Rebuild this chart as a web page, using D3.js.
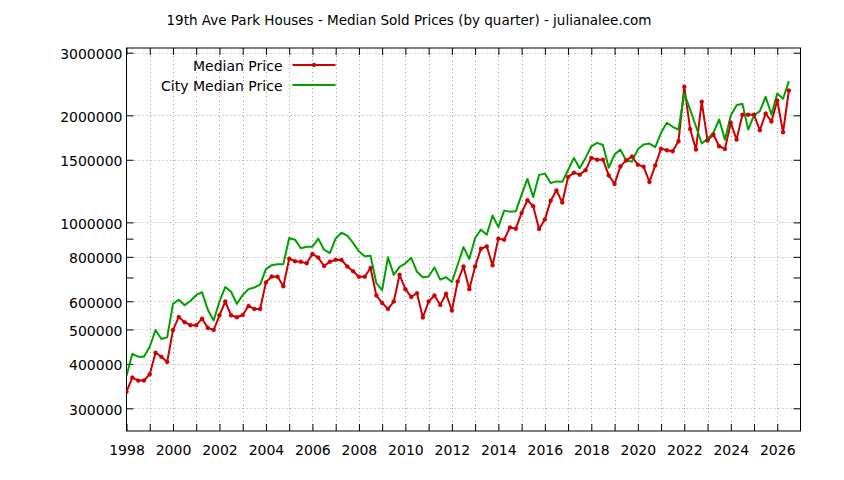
<!DOCTYPE html>
<html>
<head>
<meta charset="utf-8">
<script src="https://cdn.jsdelivr.net/npm/d3@7"></script>
<style>
  html, body { margin: 0; padding: 0; background: #fff; }
  svg { display: block; font-family: "DejaVu Sans", Verdana, sans-serif; }
</style>
</head>
<body>
<svg id="chart" width="844" height="480"></svg>
<script>
// ---- data ----
const chartTitle = "19th Ave Park Houses - Median Sold Prices (by quarter) - julianalee.com";
const seriesNames = ["Median Price", "City Median Price"];
const startYear = 1998;          // first quarter plotted at 1998.0, one point per quarter
const quartersPerYear = 4;

const medianPrice = [
  334000, 366000, 359000, 359000,     // 1998
  374000, 430000, 419000, 405000,     // 1999
  498000, 542000, 524000, 514000,     // 2000
  514000, 536000, 505000, 498000,     // 2001
  548000, 599000, 548000, 541000,     // 2002
  549000, 582000, 571000, 571000,     // 2003
  678000, 704000, 703000, 661000,     // 2004
  790000, 778000, 775000, 767000,     // 2005
  815000, 796000, 754000, 775000,     // 2006
  785000, 784000, 752000, 729000,     // 2007
  703000, 703000, 744000, 623000,     // 2008
  593000, 571000, 599000, 712000,     // 2009
  649000, 617000, 632000, 540000,     // 2010
  599000, 623000, 586000, 630000,     // 2011
  565000, 682000, 752000, 649000,     // 2012
  752000, 843000, 856000, 757000,     // 2013
  900000, 894000, 968000, 960000,     // 2014
  1063000, 1154000, 1110000, 958000,  // 2015
  1018000, 1151000, 1230000, 1137000, // 2016
  1342000, 1380000, 1362000, 1401000, // 2017
  1518000, 1501000, 1501000, 1355000, // 2018
  1283000, 1437000, 1494000, 1531000, // 2019
  1453000, 1434000, 1299000, 1446000, // 2020
  1612000, 1595000, 1584000, 1690000, // 2021
  2407000, 1832000, 1602000, 2183000, // 2022
  1698000, 1766000, 1637000, 1609000, // 2023
  1906000, 1709000, 2007000, 2007000, // 2024
  2007000, 1816000, 2024000, 1922000, // 2025
  2202000, 1793000, 2349000           // 2026
];

const cityMedianPrice = [
  370000, 427000, 419000, 419000,     // 1998
  447000, 498000, 470000, 475000,     // 1999
  590000, 606000, 585000, 601000,     // 2000
  625000, 636000, 568000, 530000,     // 2001
  599000, 658000, 638000, 590000,     // 2002
  625000, 649000, 656000, 668000,     // 2003
  739000, 758000, 763000, 763000,     // 2004
  904000, 894000, 846000, 854000,     // 2005
  854000, 900000, 838000, 820000,     // 2006
  901000, 935000, 918000, 876000,     // 2007
  829000, 803000, 806000, 675000,     // 2008
  645000, 798000, 712000, 750000,     // 2009
  767000, 795000, 726000, 701000,     // 2010
  704000, 747000, 690000, 701000,     // 2011
  680000, 760000, 852000, 789000,     // 2012
  904000, 954000, 923000, 1046000,    // 2013
  970000, 1079000, 1072000, 1074000,  // 2014
  1197000, 1325000, 1178000, 1360000, // 2015
  1371000, 1291000, 1304000, 1300000, // 2016
  1404000, 1518000, 1420000, 1518000, // 2017
  1637000, 1673000, 1650000, 1425000, // 2018
  1551000, 1602000, 1493000, 1482000, // 2019
  1605000, 1655000, 1666000, 1627000, // 2020
  1786000, 1906000, 1857000, 1824000, // 2021
  2304000, 2078000, 1864000, 1666000, // 2022
  1717000, 1786000, 1947000, 1709000, // 2023
  1998000, 2136000, 2156000, 1824000, // 2024
  1998000, 2055000, 2255000, 2011000, // 2025
  2304000, 2226000, 2495000           // 2026
];

const yTickValues = [300000, 400000, 500000, 600000, 800000, 1000000, 1500000, 2000000, 3000000];
const yMinorTickValues = [700000, 900000];
const xLabelYears = [1998, 2000, 2002, 2004, 2006, 2008, 2010, 2012, 2014, 2016, 2018, 2020, 2022, 2024, 2026];
const xGridYears = d3.range(1998, 2027);
const xDomain = [1998, 2027];
const yDomain = [259000, 3093000];

// ---- drawing ----
const svg = d3.select("#chart");
const plot = { left: 126.5, right: 800.5, top: 48, bottom: 431 };

const x = d3.scaleLinear().domain(xDomain).range([plot.left, plot.right]);
const y = d3.scaleLog().domain(yDomain).range([plot.bottom, plot.top]);

const toPoints = arr => arr.map((v, i) => ({ t: startYear + i / quartersPerYear, v }));
const redData = toPoints(medianPrice);
const greenData = toPoints(cityMedianPrice);

const RED = "#cc0000";
const GREEN = "#00a000";
const GRID = "#a0a0a0";
const FONT = 14;

// title
svg.append("text")
  .attr("x", 409).attr("y", 25)
  .attr("text-anchor", "middle")
  .attr("font-size", 13.5)
  .attr("fill", "#000")
  .text(chartTitle);

// grid
const grid = svg.append("g").attr("stroke", GRID).attr("stroke-width", 1)
  .attr("stroke-dasharray", "1,3").attr("fill", "none");
grid.selectAll("line.v").data(xGridYears.filter(d => d > xDomain[0] && d < xDomain[1]))
  .join("line").attr("class", "v")
  .attr("x1", d => Math.round(x(d)) + 0.5).attr("x2", d => Math.round(x(d)) + 0.5)
  .attr("y1", plot.top).attr("y2", plot.bottom);
grid.selectAll("line.h").data(yTickValues)
  .join("line").attr("class", "h")
  .attr("y1", d => Math.round(y(d)) + 0.5).attr("y2", d => Math.round(y(d)) + 0.5)
  .attr("x1", plot.left).attr("x2", plot.right);

// axes (ticks inward, mirrored)
const TICK = 7;
const styleAxis = g => {
  g.select(".domain").remove();
  g.selectAll(".tick line").attr("stroke", "#000");
  g.selectAll(".tick text").attr("fill", "#000").attr("font-size", FONT)
    .attr("font-family", "DejaVu Sans, Verdana, sans-serif");
};

svg.append("g").attr("transform", `translate(0,${plot.bottom})`)
  .call(d3.axisBottom(x).tickValues(xGridYears).tickSize(-TICK).tickPadding(14)
    .tickFormat(d => xLabelYears.includes(d) ? String(d) : ""))
  .call(styleAxis);
svg.append("g").attr("transform", `translate(0,${plot.top})`)
  .call(d3.axisTop(x).tickValues(xGridYears).tickSize(-TICK).tickFormat(""))
  .call(styleAxis);

const yAll = yTickValues.concat(yMinorTickValues);
svg.append("g").attr("transform", `translate(${plot.left},0)`)
  .call(d3.axisLeft(y).tickValues(yAll).tickSize(-TICK).tickPadding(4)
    .tickFormat(d => yTickValues.includes(d) ? d3.format("d")(d) : ""))
  .call(styleAxis)
  .call(g => g.selectAll(".tick text").attr("dy", "0.42em"));
svg.append("g").attr("transform", `translate(${plot.right},0)`)
  .call(d3.axisRight(y).tickValues(yAll).tickSize(-TICK).tickFormat(""))
  .call(styleAxis);

// frame
svg.append("rect")
  .attr("x", plot.left).attr("y", plot.top)
  .attr("width", plot.right - plot.left).attr("height", plot.bottom - plot.top)
  .attr("fill", "none").attr("stroke", "#000").attr("stroke-width", 1);

// lines
const line = d3.line().x(d => x(d.t)).y(d => y(d.v));
svg.append("clipPath").attr("id", "clip").append("rect")
  .attr("x", plot.left).attr("y", plot.top)
  .attr("width", plot.right - plot.left).attr("height", plot.bottom - plot.top);
const body = svg.append("g").attr("clip-path", "url(#clip)");

body.append("path").datum(redData)
  .attr("d", line).attr("fill", "none").attr("stroke", RED)
  .attr("stroke-width", 2).attr("stroke-linejoin", "round");
body.append("path").datum(greenData)
  .attr("d", line).attr("fill", "none").attr("stroke", GREEN)
  .attr("stroke-width", 2).attr("stroke-linejoin", "round");
body.selectAll("circle.pt").data(redData).join("circle").attr("class", "pt")
  .attr("cx", d => x(d.t)).attr("cy", d => y(d.v)).attr("r", 2)
  .attr("fill", RED).attr("stroke", RED).attr("stroke-opacity", 0.4).attr("stroke-width", 1);

// legend
const legend = svg.append("g");
const legendItems = [
  { name: seriesNames[0], color: RED, marker: true, y: 65 },
  { name: seriesNames[1], color: GREEN, marker: false, y: 85 }
];
legendItems.forEach(it => {
  legend.append("text").attr("x", 282.5).attr("y", it.y + 5.5)
    .attr("text-anchor", "end").attr("font-size", FONT).attr("fill", "#000").text(it.name);
  legend.append("line").attr("x1", 292.5).attr("x2", 335.5)
    .attr("y1", it.y).attr("y2", it.y).attr("stroke", it.color).attr("stroke-width", 2);
  if (it.marker) {
    legend.append("circle").attr("cx", 314).attr("cy", it.y).attr("r", 2)
      .attr("fill", it.color).attr("stroke", it.color).attr("stroke-opacity", 0.4).attr("stroke-width", 1);
  }
});
</script>
</body>
</html>
